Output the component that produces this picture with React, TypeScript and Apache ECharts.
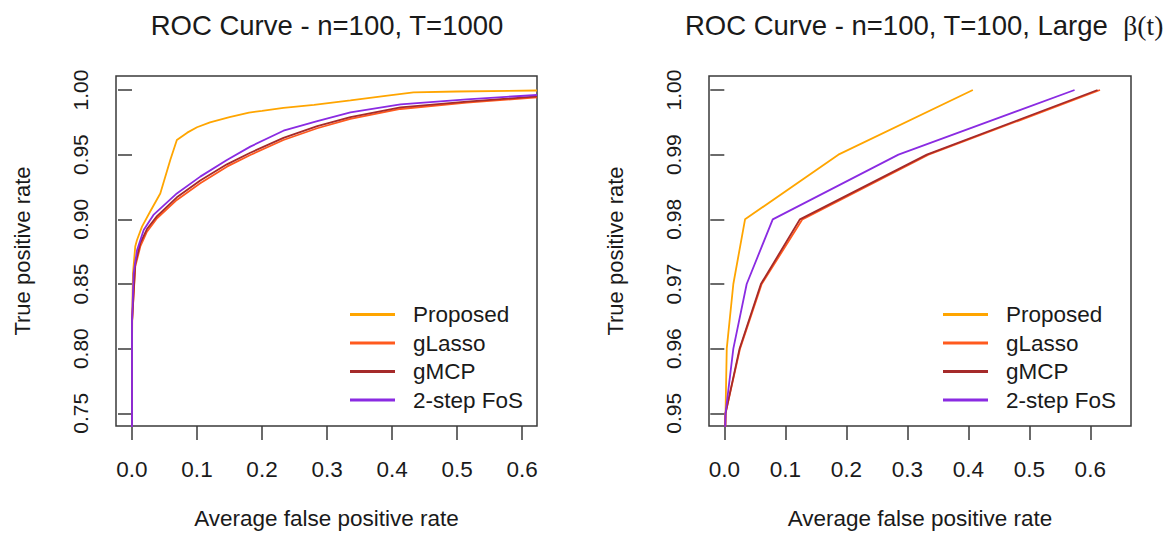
import React, { useEffect, useRef } from "react";
import * as echarts from "echarts";

const seriesNames = ["Proposed", "gLasso", "gMCP", "2-step FoS"];
const seriesColors = ["#FFA500", "#FF5A1E", "#A52A2A", "#8A2BE2"];

// Left panel: n=100, T=1000  ([false positive rate, true positive rate])
const leftProposed = [
  [0, 0.70], [0, 0.80], [0.0005, 0.83], [0.0015, 0.858], [0.005, 0.879], [0.0077, 0.884],
  [0.0154, 0.8943], [0.028, 0.906], [0.0435, 0.920], [0.059, 0.946], [0.069, 0.9613],
  [0.085, 0.967], [0.1, 0.9712], [0.12, 0.975], [0.15, 0.979],
  [0.18, 0.9825], [0.2, 0.9838], [0.233, 0.9862], [0.28, 0.9885], [0.336, 0.992],
  [0.39, 0.9955], [0.433, 0.9982], [0.5, 0.9988], [0.623, 0.9996],
];
const leftGLasso = [
  [0, 0.70], [0, 0.82], [0.005, 0.8634], [0.0128, 0.879], [0.023, 0.8904], [0.0385, 0.9008],
  [0.069, 0.915], [0.105, 0.9278], [0.146, 0.9407], [0.182, 0.9497], [0.233, 0.9613],
  [0.285, 0.9704], [0.336, 0.9776], [0.413, 0.9853], [0.515, 0.9902], [0.623, 0.9943],
];
const leftGMCP = [
  [0, 0.70], [0, 0.82], [0.005, 0.8655], [0.0128, 0.8815], [0.023, 0.8925], [0.0385, 0.9025],
  [0.069, 0.917], [0.105, 0.930], [0.146, 0.9425], [0.182, 0.9515], [0.233, 0.963],
  [0.285, 0.972], [0.336, 0.979], [0.413, 0.9865], [0.515, 0.991], [0.623, 0.995],
];
const leftFoS = [
  [0, 0.70], [0, 0.8196], [0.0025, 0.858], [0.0077, 0.876], [0.018, 0.8917], [0.033, 0.9034],
  [0.069, 0.920], [0.105, 0.933], [0.146, 0.9459], [0.182, 0.9562], [0.233, 0.9685],
  [0.285, 0.976], [0.336, 0.9827], [0.413, 0.9889], [0.515, 0.9928], [0.623, 0.9961],
];

// Right panel: n=100, T=100, Large beta(t)
const rightProposed = [[0, 0.94], [0.004, 0.96], [0.0148, 0.97], [0.034, 0.98], [0.187, 0.99], [0.4075, 1.0]];
const rightGLasso = [[0, 0.94], [0.002, 0.95], [0.0258, 0.96], [0.0613, 0.97], [0.128, 0.98], [0.3347, 0.99], [0.616, 1.0]];
const rightGMCP = [[0, 0.94], [0.002, 0.95], [0.025, 0.96], [0.060, 0.97], [0.124, 0.98], [0.332, 0.99], [0.612, 1.0]];
const rightFoS = [[0, 0.94], [0.002, 0.95], [0.0148, 0.96], [0.0367, 0.97], [0.0794, 0.98], [0.2855, 0.99], [0.5743, 1.0]];

const xTicks = [0, 0.1, 0.2, 0.3, 0.4, 0.5, 0.6];
const leftYTicks = [0.75, 0.8, 0.85, 0.9, 0.95, 1.0];
const rightYTicks = [0.95, 0.96, 0.97, 0.98, 0.99, 1.0];

const titles = ["ROC Curve - n=100, T=1000", "ROC Curve - n=100, T=100, Large  {b|β(t)}"];
const xName = "Average false positive rate";
const yName = "True positive rate";

const FONT = "'Liberation Sans', Arial, Helvetica, sans-serif";
const INK = "#1a1a1a";
const BOX = "#3a3a3a";

export default function App() {
  const ref = useRef<HTMLDivElement>(null);
  useEffect(() => {
    document.body.style.margin = "0";
    const chart = echarts.init(ref.current!, null, { renderer: "svg" });

    const mkX = (gridIndex: number, min: number, max: number) => ({
      type: "value",
      gridIndex,
      min,
      max,
      splitLine: { show: false },
      axisLine: { show: false },
      axisTick: {
        show: true,
        customValues: xTicks,
        length: 14,
        lineStyle: { color: BOX, width: 1.5 },
      },
      axisLabel: {
        customValues: xTicks,
        formatter: (v: number) => v.toFixed(1),
        fontSize: 22.5,
        fontFamily: FONT,
        color: INK,
        margin: 32,
      },
      name: xName,
      nameLocation: "middle",
      nameGap: 81,
      nameTextStyle: { fontSize: 22.5, fontFamily: FONT, color: INK },
    });
    const mkY = (gridIndex: number, min: number, max: number, ticks: number[]) => ({
      type: "value",
      gridIndex,
      min,
      max,
      splitLine: { show: false },
      axisLine: { show: false },
      axisTick: {
        show: true,
        customValues: ticks,
        length: 14,
        lineStyle: { color: BOX, width: 1.5 },
      },
      axisLabel: {
        customValues: ticks,
        formatter: (v: number) => v.toFixed(2),
        rotate: 90,
        fontSize: 21,
        fontFamily: FONT,
        color: INK,
        margin: 25,
      },
      name: yName,
      nameLocation: "middle",
      nameGap: 83,
      nameTextStyle: { fontSize: 22, fontFamily: FONT, color: INK },
    });

    const leftData = [leftProposed, leftGLasso, leftGMCP, leftFoS];
    const rightData = [rightProposed, rightGLasso, rightGMCP, rightFoS];
    const series: any[] = [];
    [leftData, rightData].forEach((group, gi) => {
      group.forEach((d, i) => {
        series.push({
          type: "line",
          name: seriesNames[i],
          xAxisIndex: gi,
          yAxisIndex: gi,
          data: d,
          showSymbol: false,
          symbol: "none",
          clip: true,
          smooth: false,
          lineStyle: { color: seriesColors[i], width: 1.8 },
          itemStyle: { color: seriesColors[i] },
          emphasis: { disabled: true },
        });
      });
    });

    const mkLegend = (left: number) => ({
      left,
      top: 303,
      orient: "vertical",
      padding: 0,
      data: seriesNames,
      icon: "rect",
      itemWidth: 45,
      itemHeight: 3,
      itemGap: 5.5,
      selectedMode: false,
      textStyle: { fontSize: 22.5, fontFamily: FONT, color: INK, padding: [0, 0, 0, 13] },
    });

    chart.setOption({
      animation: false,
      backgroundColor: "#ffffff",
      color: seriesColors,
      title: [
        {
          text: titles[0],
          left: 322,
          top: 6,
          textAlign: "center",
          textStyle: { fontSize: 27.5, fontWeight: "normal", fontFamily: FONT, color: INK },
        },
        {
          text: titles[1],
          left: 919,
          top: 6,
          textAlign: "center",
          textStyle: {
            fontSize: 27.5,
            fontWeight: "normal",
            fontFamily: FONT,
            color: INK,
            rich: { b: { fontSize: 27.5, fontFamily: "'Liberation Serif', serif", color: INK } },
          },
        },
      ],
      grid: [
        { left: 116, top: 76, width: 421, height: 350, show: true, borderColor: BOX, borderWidth: 1.5, backgroundColor: "transparent" },
        { left: 709, top: 76, width: 422, height: 350, show: true, borderColor: BOX, borderWidth: 1.5, backgroundColor: "transparent" },
      ],
      xAxis: [mkX(0, -0.0246, 0.623), mkX(1, -0.0251, 0.6668)],
      yAxis: [mkY(0, 0.7402, 1.0108, leftYTicks), mkY(1, 0.94804, 1.002165, rightYTicks)],
      legend: [mkLegend(350), mkLegend(943)],
      series,
    });
    return () => chart.dispose();
  }, []);
  return <div ref={ref} style={{ width: 1172, height: 539 }} />;
}
